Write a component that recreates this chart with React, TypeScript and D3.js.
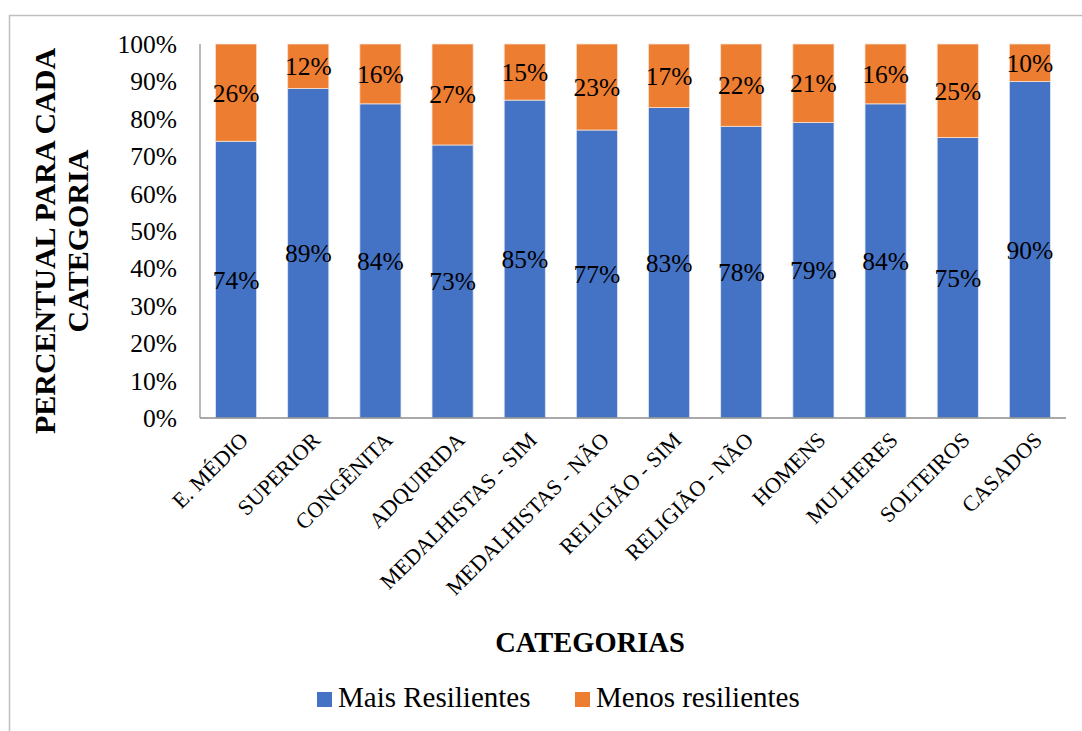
import React, { useRef, useEffect } from "react";
import * as d3 from "d3";

const categories = [
  "E. MÉDIO",
  "SUPERIOR",
  "CONGÊNITA",
  "ADQUIRIDA",
  "MEDALHISTAS - SIM",
  "MEDALHISTAS - NÃO",
  "RELIGIÃO - SIM",
  "RELIGIÃO - NÃO",
  "HOMENS",
  "MULHERES",
  "SOLTEIROS",
  "CASADOS",
];
const maisResilientes = [74, 89, 84, 73, 85, 77, 83, 78, 79, 84, 75, 90];
const menosResilientes = [26, 12, 16, 27, 15, 23, 17, 22, 21, 16, 25, 10];
const seriesNames = ["Mais Resilientes", "Menos resilientes"];
const yTicks = [0, 10, 20, 30, 40, 50, 60, 70, 80, 90, 100];

const colors = ["#4472C4", "#ED7D31"];
const fontFamily = "Liberation Serif";

const App = () => {
  const ref = useRef<SVGSVGElement>(null);
  const width = 1082,
    height = 731;
  const left = 200,
    right = 1066,
    top = 44,
    bottom = 418;

  useEffect(() => {
    if (!ref.current) return;
    const svg = d3.select(ref.current);
    svg.selectAll("*").remove();
    svg.attr("font-family", fontFamily).attr("fill", "#000");

    // chart frame
    svg
      .append("rect")
      .attr("x", 9.5)
      .attr("y", 15.5)
      .attr("width", 1200)
      .attr("height", 800)
      .attr("fill", "#fff")
      .attr("stroke", "#bfbfbf")
      .attr("stroke-width", 1.5);

    const x = d3
      .scaleBand()
      .domain(categories)
      .range([left, right])
      .paddingInner(0.43)
      .paddingOuter(0.215);
    const y = d3.scaleLinear().domain([0, 100]).range([bottom, top]);

    const rows = categories.map((c, i) => {
      const total = maisResilientes[i] + menosResilientes[i];
      return {
        cat: c,
        a: maisResilientes[i],
        b: menosResilientes[i],
        pa: (maisResilientes[i] / total) * 100,
      };
    });

    const g = svg.append("g");
    rows.forEach((r) => {
      const bx = x(r.cat)!;
      const bw = x.bandwidth();
      g.append("rect")
        .attr("x", bx)
        .attr("y", y(r.pa))
        .attr("width", bw)
        .attr("height", y(0) - y(r.pa))
        .attr("fill", colors[0])
        .attr("stroke", "#dfe6f3")
        .attr("stroke-width", 0.8);
      g.append("rect")
        .attr("x", bx)
        .attr("y", y(100))
        .attr("width", bw)
        .attr("height", y(r.pa) - y(100))
        .attr("fill", colors[1])
        .attr("stroke", "#f7e0d0")
        .attr("stroke-width", 0.8);
      g.append("text")
        .attr("x", bx + bw / 2)
        .attr("y", (y(0) + y(r.pa)) / 2)
        .attr("dy", "0.35em")
        .attr("text-anchor", "middle")
        .attr("font-size", 25.5)
        .text(`${r.a}%`);
      g.append("text")
        .attr("x", bx + bw / 2)
        .attr("y", (y(100) + y(r.pa)) / 2)
        .attr("dy", "0.35em")
        .attr("text-anchor", "middle")
        .attr("font-size", 25.5)
        .text(`${r.b}%`);
    });

    // axes
    svg
      .append("line")
      .attr("x1", left)
      .attr("x2", left)
      .attr("y1", top)
      .attr("y2", bottom)
      .attr("stroke", "#8c8c8c")
      .attr("stroke-width", 1.2);
    svg
      .append("line")
      .attr("x1", left)
      .attr("x2", right)
      .attr("y1", bottom)
      .attr("y2", bottom)
      .attr("stroke", "#8c8c8c")
      .attr("stroke-width", 1.5);

    svg
      .append("g")
      .selectAll("text")
      .data(yTicks)
      .join("text")
      .attr("x", 177)
      .attr("y", (d) => y(d))
      .attr("dy", "0.35em")
      .attr("text-anchor", "end")
      .attr("font-size", 25.5)
      .text((d) => `${d}%`);

    svg
      .append("g")
      .selectAll("text")
      .data(categories)
      .join("text")
      .attr(
        "transform",
        (d) => `translate(${x(d)! + x.bandwidth() / 2 + 8},${bottom + 18}) rotate(-45)`
      )
      .attr("text-anchor", "end")
      .attr("dy", "0.35em")
      .attr("font-size", 22)
      .text((d) => d);

    // axis titles
    const yt = svg
      .append("text")
      .attr("transform", `translate(55,241) rotate(-90)`)
      .attr("text-anchor", "middle")
      .attr("font-size", 30)
      .attr("font-weight", "bold");
    yt.append("tspan").attr("x", 0).attr("dy", 0).text("PERCENTUAL PARA CADA");
    yt.append("tspan").attr("x", 0).attr("dy", 33).text("CATEGORIA");

    svg
      .append("text")
      .attr("x", 590)
      .attr("y", 652)
      .attr("text-anchor", "middle")
      .attr("font-size", 28.5)
      .attr("font-weight", "bold")
      .text("CATEGORIAS");

    // legend
    const legendX = [317, 575];
    seriesNames.forEach((n, i) => {
      svg
        .append("rect")
        .attr("x", legendX[i])
        .attr("y", 692)
        .attr("width", 15)
        .attr("height", 15)
        .attr("fill", colors[i]);
      svg
        .append("text")
        .attr("x", legendX[i] + 21)
        .attr("y", 707)
        .attr("font-size", 29)
        .text(n);
    });
  }, []);

  return (
    <svg
      ref={ref}
      width={width}
      height={height}
      style={{ position: "absolute", left: 0, top: 0, background: "#fff" }}
    ></svg>
  );
};

export default App;
